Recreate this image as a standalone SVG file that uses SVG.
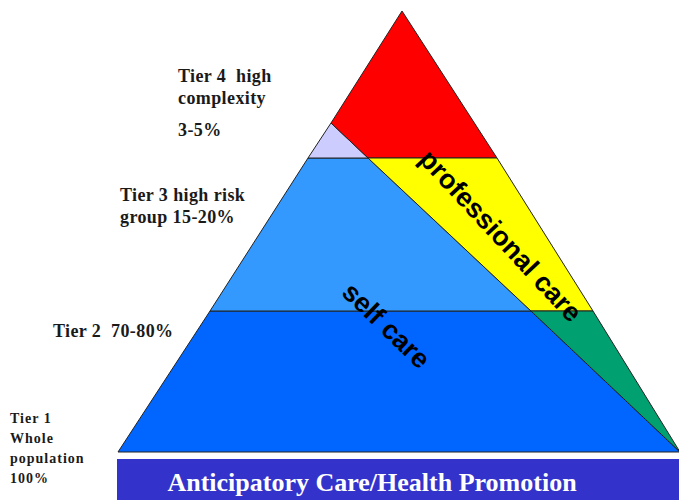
<svg xmlns="http://www.w3.org/2000/svg" width="679" height="500" viewBox="0 0 679 500">
<style>
.seg{stroke:#222;stroke-width:1;stroke-linejoin:round}
.lbl{font-family:"Liberation Serif","Times New Roman",serif;font-weight:bold;font-size:18px;fill:#1a1a1a;letter-spacing:0.4px}
.small{font-family:"Liberation Serif","Times New Roman",serif;font-weight:bold;font-size:14px;fill:#1a1a1a;letter-spacing:1px}
.care{font-family:"Liberation Sans",Arial,sans-serif;font-weight:bold;font-size:27px;fill:#000;text-anchor:middle}
</style>
<rect width="679" height="500" fill="#fff"/>
<g id="band">
<rect x="117" y="459" width="562" height="41" fill="#3333cc"/>
<text x="372" y="491" text-anchor="middle" style="font-family:'Liberation Serif','Times New Roman',serif;font-weight:bold;font-size:26px;fill:#fff">Anticipatory Care/Health Promotion</text>
</g>
<g id="pyramid">
<g id="tier2"><polygon class="seg" points="210,311 531,311 680,452 118,452" fill="#0066ff"/></g>
<g id="tier3"><polygon class="seg" points="308,158 368,158 531,311 210,311" fill="#3399ff"/></g>
<g id="tier4-self"><polygon class="seg" points="331,123 368,158 308,158" fill="#ccccff"/></g>
<g id="tier4"><polygon class="seg" points="402,11 497,158 368,158 331,123" fill="#ff0000"/></g>
<g id="prof3"><polygon class="seg" points="368,158 497,158 593,311 531,311" fill="#ffff00"/></g>
<g id="prof2"><polygon class="seg" points="531,311 593,311 680,452" fill="#00a070"/></g>
</g>
<g id="connectors"></g>
<g id="labels">
<text class="care" transform="translate(494,242) rotate(47)">professional care</text>
<text class="care" transform="translate(380,332) rotate(44)">self care</text>
<text class="lbl" x="178" y="82">Tier 4&#160; high</text>
<text class="lbl" x="178" y="104">complexity</text>
<text class="lbl" x="178" y="136">3-5%</text>
<text class="lbl" x="120" y="201">Tier 3 high risk</text>
<text class="lbl" x="120" y="223">group 15-20%</text>
<text class="lbl" x="53" y="337">Tier 2&#160; 70-80%</text>
<text class="small" x="10" y="423">Tier 1</text>
<text class="small" x="10" y="443">Whole</text>
<text class="small" x="10" y="463">population</text>
<text class="small" x="10" y="483">100%</text>
</g>
</svg>
